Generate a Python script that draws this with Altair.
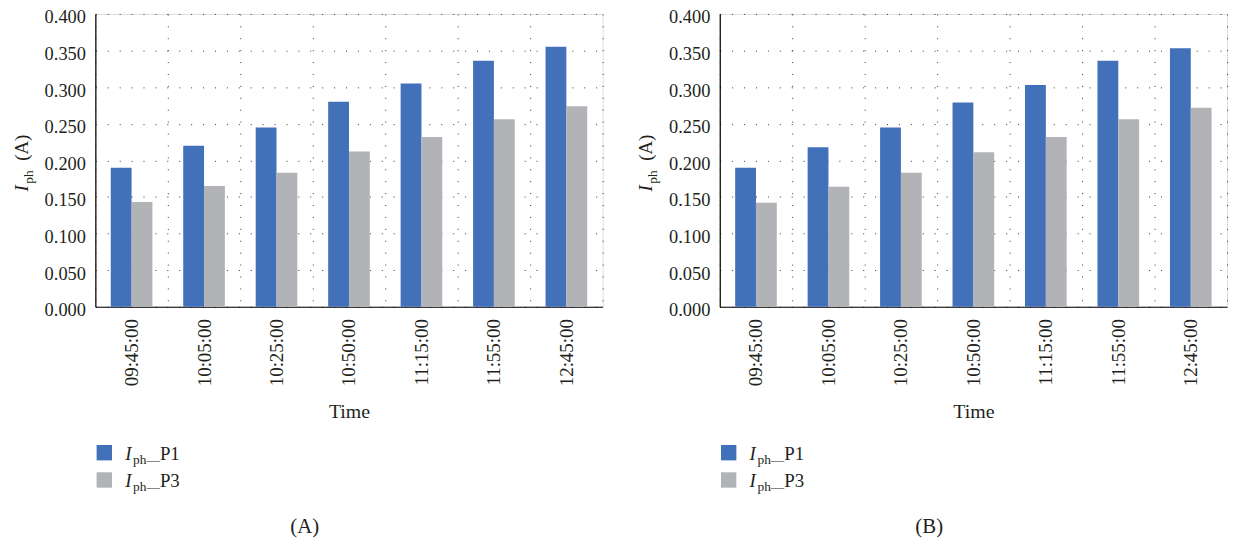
import altair as alt
import pandas as pd

times = ["09:45:00", "10:05:00", "10:25:00", "10:50:00", "11:15:00", "11:55:00", "12:45:00"]
series = ["P1", "P3"]
colors = ["#4271b9", "#b2b3b6"]

a_p1 = [0.190, 0.220, 0.245, 0.280, 0.305, 0.336, 0.355]
a_p3 = [0.143, 0.165, 0.183, 0.212, 0.232, 0.256, 0.274]
b_p1 = [0.190, 0.218, 0.245, 0.279, 0.303, 0.336, 0.353]
b_p3 = [0.142, 0.164, 0.183, 0.211, 0.232, 0.256, 0.272]
y_ticks = [0.0, 0.05, 0.1, 0.15, 0.2, 0.25, 0.3, 0.35, 0.4]

FONT = "Liberation Serif"
TXT = "#231f20"
W, H = 511, 295


def one_row():
    return alt.Chart(pd.DataFrame({"k": [0]}))


def panel(p1, p3, caption):
    rows = []
    for t, v in zip(times, p1):
        rows.append({"time": t, "series": "P1", "value": v})
    for t, v in zip(times, p3):
        rows.append({"time": t, "series": "P3", "value": v})
    df = pd.DataFrame(rows)
    color = alt.Color("series:N", scale=alt.Scale(domain=series, range=colors), legend=None)

    bars = alt.Chart(df).mark_bar().encode(
        x=alt.X("time:N", sort=times,
                scale=alt.Scale(paddingInner=0, paddingOuter=0),
                axis=alt.Axis(title="Time", labelAngle=270, labelAlign="right",
                              labelBaseline="middle", labelPadding=12, ticks=False,
                              tickBand="extent", grid=True, gridDash=[1, 11],
                              gridColor="#333333", gridWidth=1,
                              labelFont=FONT, labelFontSize=19, labelColor=TXT,
                              titleFont=FONT, titleFontSize=20, titleFontWeight="normal",
                              titleColor=TXT, titlePadding=16,
                              domainColor="#000000", domainWidth=1.2)),
        xOffset=alt.XOffset("series:N", sort=series,
                            scale=alt.Scale(paddingInner=0, paddingOuter=0.74)),
        y=alt.Y("value:Q", scale=alt.Scale(domain=[0, 0.4], nice=False),
                axis=alt.Axis(title=None, values=y_ticks, format=".3f", ticks=False,
                              grid=True, gridDash=[1, 11], gridColor="#333333", gridWidth=1,
                              labelFont=FONT, labelFontSize=18.5, labelColor=TXT,
                              labelOffset=3,
                              labelPadding=10, domainColor="#000000", domainWidth=1.2)),
        color=color,
    )

    layers = [bars]

    # y-axis title: I_ph (A)
    base = dict(angle=270, align="left", baseline="alphabetic", font=FONT, color=TXT)
    layers.append(one_row().mark_text(text="I", fontSize=19, fontStyle="italic", dx=0, **base)
                  .encode(x=alt.value(-68), y=alt.value(179)))
    layers.append(one_row().mark_text(text="ph", fontSize=13.5, dx=8, dy=5, **base)
                  .encode(x=alt.value(-68), y=alt.value(179)))
    layers.append(one_row().mark_text(text="(A)", fontSize=19, dx=31, **base)
                  .encode(x=alt.value(-68), y=alt.value(179)))

    # legend
    leg = pd.DataFrame({"series": series})
    for i, s in enumerate(series):
        yc = 442 + i * 27.5
        sub = alt.Chart(leg).transform_filter(alt.datum.series == s)
        layers.append(sub.mark_square(size=240, opacity=1, filled=True)
                      .encode(x=alt.value(9), y=alt.value(yc), color=color))
        tb = dict(align="left", baseline="alphabetic", font=FONT, color=TXT)
        layers.append(sub.mark_text(text="I", fontSize=19, fontStyle="italic", **tb)
                      .encode(x=alt.value(30), y=alt.value(yc + 7.5)))
        layers.append(sub.mark_text(text="ph\u2014", fontSize=13.5, **tb)
                      .encode(x=alt.value(38), y=alt.value(yc + 11.5)))
        layers.append(sub.mark_text(fontSize=19, **tb)
                      .encode(x=alt.value(65), y=alt.value(yc + 7.5), text="series:N"))

    # caption
    layers.append(one_row().mark_text(text=caption, fontSize=21, font=FONT, color=TXT,
                                      align="center", baseline="middle")
                  .encode(x=alt.value(211), y=alt.value(517)))

    return alt.layer(*layers).properties(width=W, height=H)


chart = alt.hconcat(panel(a_p1, a_p3, "(A)"), panel(b_p1, b_p3, "(B)"), spacing=33).properties(
    padding={"left": 4, "top": -3, "right": 0, "bottom": 0}
).configure_view(stroke="#000000", strokeWidth=1.2).configure(background="white")

chart.save("out.html", embed_options={"renderer": "svg", "actions": False})
